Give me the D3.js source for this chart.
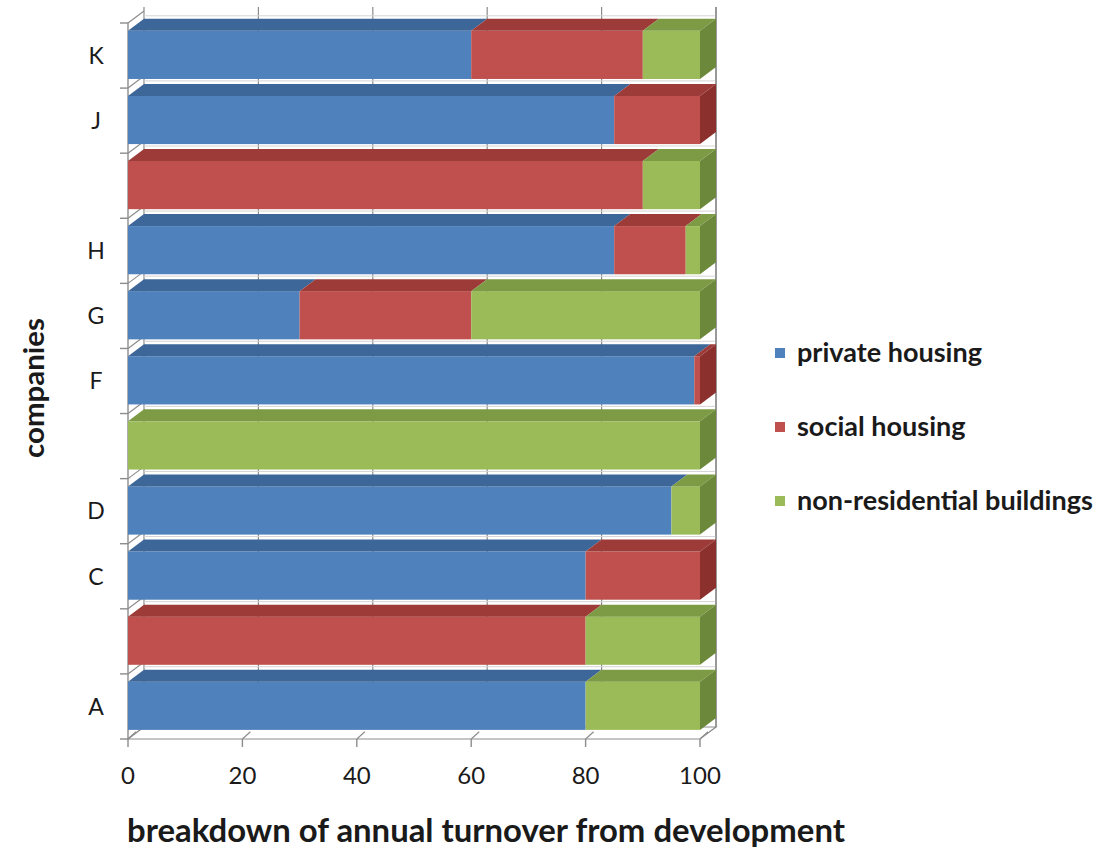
<!DOCTYPE html>
<html>
<head>
<meta charset="utf-8">
<script src="https://cdn.jsdelivr.net/npm/d3@7/dist/d3.min.js"></script>
<style>
  html, body { margin: 0; padding: 0; background: #ffffff; }
  svg { display: block; }
  text { font-family: Lato, "Open Sans", sans-serif; fill: #1a1a1a; }
</style>
</head>
<body>
<svg id="chart" width="1099" height="853"></svg>
<script>
// Companies, bottom to top
const categories = ["A", "B", "C", "D", "E", "F", "G", "H", "I", "J", "K"];
// Labels printed on the category axis (some companies are left unnamed)
const categoryLabels = ["A", "", "C", "D", "", "F", "G", "H", "", "J", "K"];

// Share of annual turnover from development (%)
const privateHousing   = [80, 0, 80, 95, 0, 99, 30, 85, 0, 85, 60];
const socialHousing    = [0, 80, 20, 0, 0, 1, 30, 12.5, 90, 15, 30];
const nonResidential   = [20, 20, 0, 5, 100, 0, 40, 2.5, 10, 0, 10];

const seriesNames = ["private housing", "social housing", "non-residential buildings"];
const xTicks = [0, 20, 40, 60, 80, 100];

const rows = categories.map((c, i) => ({
  company: c,
  label: categoryLabels[i],
  "private housing": privateHousing[i],
  "social housing": socialHousing[i],
  "non-residential buildings": nonResidential[i]
}));

// Face colours: front, top, side
const palette = {
  "private housing":           { front: "#4f81bd", top: "#3d6699", side: "#365c8c" },
  "social housing":            { front: "#c0504d", top: "#9c3b38", side: "#8c302e" },
  "non-residential buildings": { front: "#9bbb59", top: "#7c9b44", side: "#6c883a" }
};

const svg = d3.select("#chart");

// Plot geometry (front plane) and 3-D depth offset
const plotLeft = 128, plotRight = 700, plotTop = 23, plotBottom = 739;
const dx = 16, dy = 12;
const axisGrey = "#8c8c8c";

const x = d3.scaleLinear().domain([0, 100]).range([plotLeft, plotRight]);
const y = d3.scaleBand().domain(categories.slice().reverse()).range([plotTop, plotBottom]);
const step = y.step();
const barOffset = step * 0.12;
const barHeight = step * 0.74;

const stacked = d3.stack().keys(seriesNames)(rows);

// ---- back wall gridlines ----
const walls = svg.append("g");
walls.selectAll("line.grid")
  .data(xTicks)
  .join("line")
  .attr("x1", d => x(d) + dx).attr("x2", d => x(d) + dx)
  .attr("y1", plotTop - dy - 4).attr("y2", plotBottom - dy)
  .attr("stroke", axisGrey).attr("stroke-width", 1.2);

// faint shelf lines on the back wall under each bar
walls.selectAll("line.shelf")
  .data(categories)
  .join("line")
  .attr("x1", x(0) + dx).attr("x2", x(100) + dx)
  .attr("y1", d => y(d) + barOffset - dy - 3)
  .attr("y2", d => y(d) + barOffset - dy - 3)
  .attr("stroke", "#d4d4d4").attr("stroke-width", 1);

// ---- left wall: front axis line, boundary diagonals, ticks ----
const bounds = categories.map(c => y(c)).concat([plotBottom]);
walls.append("line")
  .attr("x1", plotLeft).attr("x2", plotLeft).attr("y1", plotTop).attr("y2", plotBottom)
  .attr("stroke", axisGrey).attr("stroke-width", 1.4);
walls.selectAll("line.diag")
  .data(bounds)
  .join("line")
  .attr("x1", plotLeft).attr("y1", d => d)
  .attr("x2", plotLeft + dx).attr("y2", d => d - dy)
  .attr("stroke", axisGrey).attr("stroke-width", 1.2);
walls.selectAll("line.ytick")
  .data(bounds)
  .join("line")
  .attr("x1", plotLeft - 8).attr("x2", plotLeft)
  .attr("y1", d => d).attr("y2", d => d)
  .attr("stroke", axisGrey).attr("stroke-width", 1.4);

// ---- floor ----
const floor = svg.append("g");
floor.append("path")
  .attr("d", `M${x(0)},${plotBottom}L${x(100)},${plotBottom}L${x(100) + dx},${plotBottom - dy}L${x(0) + dx},${plotBottom - dy}Z`)
  .attr("fill", "#ffffff").attr("stroke", axisGrey).attr("stroke-width", 1.2);
floor.selectAll("line.fdiag")
  .data(xTicks)
  .join("line")
  .attr("x1", d => x(d)).attr("y1", plotBottom)
  .attr("x2", d => x(d) + dx * 0.5).attr("y2", plotBottom - dy * 0.6)
  .attr("stroke", axisGrey).attr("stroke-width", 1.2);
floor.selectAll("line.xtick")
  .data(xTicks)
  .join("line")
  .attr("x1", d => x(d)).attr("x2", d => x(d))
  .attr("y1", plotBottom).attr("y2", plotBottom + 8)
  .attr("stroke", axisGrey).attr("stroke-width", 1.4);

// right edge of back wall
walls.append("line")
  .attr("x1", x(100) + dx).attr("x2", x(100) + dx)
  .attr("y1", plotTop - dy - 4).attr("y2", plotBottom - dy)
  .attr("stroke", axisGrey).attr("stroke-width", 1.4);

// ---- 3-D stacked bars, drawn from the top row down ----
const bars = svg.append("g");
categories.slice().reverse().forEach(c => {
  const i = categories.indexOf(c);
  const yt = y(c) + barOffset;
  const yb = yt + barHeight;
  const segs = stacked
    .map(s => ({ key: s.key, x0: s[i][0], x1: s[i][1] }))
    .filter(s => s.x1 - s.x0 > 0);
  const last = segs[segs.length - 1];
  const g = bars.append("g");
  segs.forEach(s => {
    const col = palette[s.key];
    const a = x(s.x0), b = x(s.x1);
    g.append("rect")
      .attr("x", a).attr("y", yt)
      .attr("width", b - a).attr("height", barHeight)
      .attr("fill", col.front);
    g.append("path")
      .attr("d", `M${a},${yt}L${b},${yt}L${b + dx},${yt - dy}L${a + dx},${yt - dy}Z`)
      .attr("fill", col.top);
  });
  const b = x(last.x1);
  g.append("path")
    .attr("d", `M${b},${yt}L${b + dx},${yt - dy}L${b + dx},${yb - dy}L${b},${yb}Z`)
    .attr("fill", palette[last.key].side);
});

// ---- helper: scale font so text spans a given width ----
function fitText(sel, base, target) {
  sel.attr("font-size", base);
  const w = sel.node().getComputedTextLength();
  sel.attr("font-size", base * target / w);
}

// ---- axis labels ----
svg.append("g").selectAll("text")
  .data(xTicks)
  .join("text")
  .attr("x", d => x(d)).attr("y", 784)
  .attr("text-anchor", "middle")
  .attr("font-size", 24)
  .text(d => d);

svg.append("g").selectAll("text")
  .data(rows)
  .join("text")
  .attr("x", 96)
  .attr("y", d => y(d.company) + step / 2)
  .attr("dy", "0.36em")
  .attr("text-anchor", "middle")
  .attr("font-size", 23)
  .text(d => d.label);

const xTitle = svg.append("text")
  .attr("x", 486).attr("y", 842)
  .attr("text-anchor", "middle")
  .attr("font-weight", "bold")
  .text("breakdown of annual turnover from development");
fitText(xTitle, 26, 718);

const yTitle = svg.append("text")
  .attr("transform", "translate(44,388) rotate(-90)")
  .attr("text-anchor", "middle")
  .attr("font-weight", "bold")
  .text("companies");
fitText(yTitle, 26, 140);

// ---- legend ----
const legend = svg.append("g");
const legendY = [353, 427, 501];
const legendTexts = seriesNames.map((name, k) => {
  legend.append("rect")
    .attr("x", 775).attr("y", legendY[k] - 5)
    .attr("width", 10).attr("height", 10)
    .attr("fill", palette[name].front);
  return legend.append("text")
    .attr("x", 797).attr("y", legendY[k])
    .attr("dy", "0.33em")
    .attr("font-weight", "bold")
    .text(name);
});
// size all legend entries from the longest one
fitText(legendTexts[2], 21, 296);
const legendSize = legendTexts[2].attr("font-size");
legendTexts.forEach(t => t.attr("font-size", legendSize));
</script>
</body>
</html>
